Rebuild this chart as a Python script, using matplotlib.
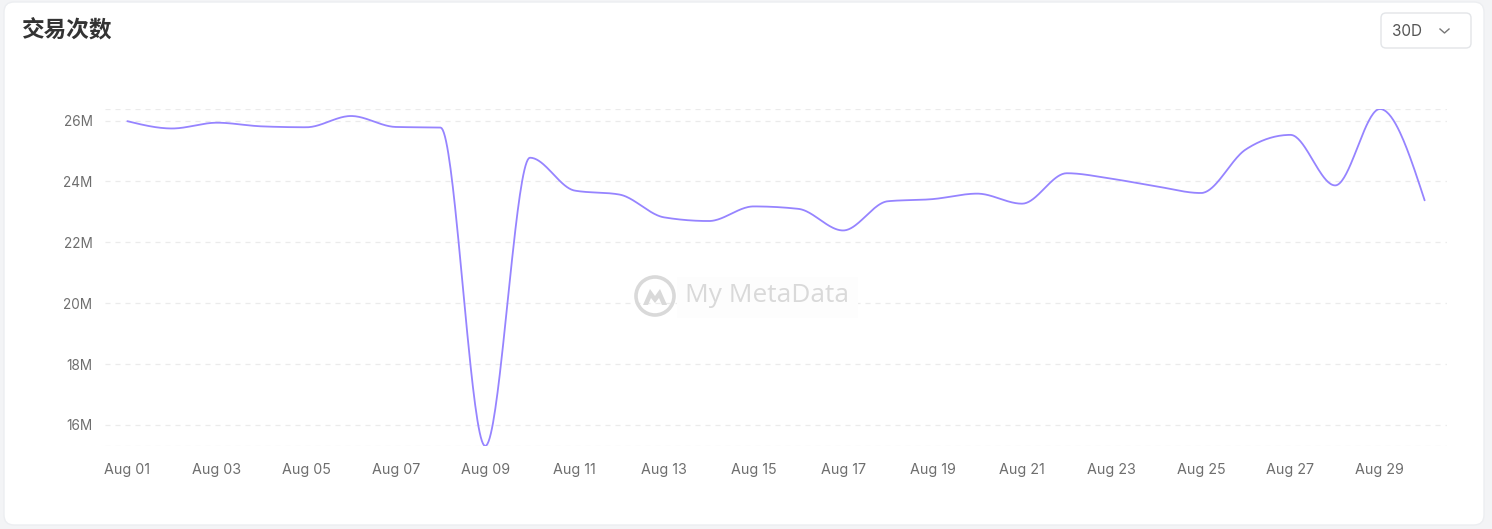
import numpy as np
import matplotlib
matplotlib.use("Agg")
import matplotlib.pyplot as plt
from matplotlib.patches import FancyBboxPatch, Circle, Polygon, Rectangle
from matplotlib.transforms import IdentityTransform

# ---------------- data ----------------
dates = ["Aug 01", "Aug 02", "Aug 03", "Aug 04", "Aug 05", "Aug 06", "Aug 07", "Aug 08",
         "Aug 09", "Aug 10", "Aug 11", "Aug 12", "Aug 13", "Aug 14", "Aug 15", "Aug 16",
         "Aug 17", "Aug 18", "Aug 19", "Aug 20", "Aug 21", "Aug 22", "Aug 23", "Aug 24",
         "Aug 25", "Aug 26", "Aug 27", "Aug 28", "Aug 29", "Aug 30"]
tx_millions = [25.98, 25.74, 25.93, 25.81, 25.78, 26.15, 25.79, 25.77,
               15.31, 24.78, 23.70, 23.57, 22.82, 22.70, 23.18, 23.10,
               22.39, 23.35, 23.42, 23.60, 23.27, 24.27, 24.09, 23.84,
               23.62, 25.05, 25.53, 23.87, 26.38, 23.38]
y_ticks = [16, 18, 20, 22, 24, 26]
y_tick_labels = ["16M", "18M", "20M", "22M", "24M", "26M"]
title = "交易次数"
range_label = "30D"
watermark = "My MetaData"

W, H = 1492, 529
fig = plt.figure(figsize=(W / 100, H / 100), dpi=100)
fig.patch.set_facecolor("#f3f4f6")

# card background (pixel coords, origin bottom-left)
card = FancyBboxPatch((4, 4), 1480, H - 6, boxstyle="round,pad=0,rounding_size=10",
                      transform=IdentityTransform(), facecolor="white",
                      edgecolor="#eceef1", linewidth=1, zorder=-10)
fig.patches.append(card)


def monotone_x(y, n_sub=40):
    """d3 curveMonotoneX-style interpolation for unit-spaced x."""
    y = np.asarray(y, dtype=float)
    n = len(y)
    s = np.diff(y)
    t = np.zeros(n)
    for i in range(1, n - 1):
        s0, s1 = s[i - 1], s[i]
        p = (s0 + s1) / 2.0
        t[i] = (np.sign(s0) + np.sign(s1)) * min(abs(s0), abs(s1), 0.5 * abs(p))
    t[0] = (3 * s[0] - t[1]) / 2.0
    t[-1] = (3 * s[-1] - t[-2]) / 2.0
    xs, ys = [], []
    u = np.linspace(0, 1, n_sub, endpoint=False)
    for i in range(n - 1):
        h00 = 2 * u**3 - 3 * u**2 + 1
        h10 = u**3 - 2 * u**2 + u
        h01 = -2 * u**3 + 3 * u**2
        h11 = u**3 - u**2
        ys.append(h00 * y[i] + h10 * t[i] + h01 * y[i + 1] + h11 * t[i + 1])
        xs.append(i + u)
    xs.append(np.array([n - 1.0]))
    ys.append(np.array([y[-1]]))
    return np.concatenate(xs), np.concatenate(ys)


# axes placement in pixels
left_px, right_px, top_px, bottom_px = 105, 1447, 109, 446
ax = fig.add_axes([left_px / W, 1 - bottom_px / H, (right_px - left_px) / W, (bottom_px - top_px) / H])
ax.set_facecolor("none")
ax.set_zorder(1)

x = np.arange(len(dates))
xs, ys = monotone_x(tx_millions)
ymin, ymax = min(tx_millions), max(tx_millions)
ax.set_xlim(-0.5, len(dates) - 0.5)
ax.set_ylim(ymin, ymax)

grid_kw = dict(color="#ebebeb", linewidth=0.9, linestyle=(0, (4, 4)), zorder=1)
for g in y_ticks + [ymin, ymax]:
    ax.axhline(g, **grid_kw)

ax.plot(xs, ys, color="#9684ff", linewidth=1.3, zorder=3, solid_capstyle="round")

tick_font = ["Inter", "DejaVu Sans"]
ax.set_yticks(y_ticks)
ax.set_yticklabels(y_tick_labels, fontsize=9.8, color="#6e6e6e", family=tick_font)
ax.set_xticks(x[::2])
ax.set_xticklabels(dates[::2], fontsize=10.3, color="#6e6e6e", family=tick_font)
ax.tick_params(axis="both", length=0)
ax.tick_params(axis="y", pad=9)
ax.tick_params(axis="x", pad=12)
for sp in ax.spines.values():
    sp.set_visible(False)

# title
fig.text(22 / W, 1 - 31 / H, title, fontsize=16.3, fontweight="bold", color="#333333",
         family=["Noto Sans CJK SC", "DejaVu Sans"], va="center", ha="left")

# range dropdown
box = FancyBboxPatch((1381, H - 48), 90, 35, boxstyle="round,pad=0,rounding_size=5",
                     transform=IdentityTransform(), facecolor="white",
                     edgecolor="#e3e5e8", linewidth=1, zorder=2)
fig.patches.append(box)
fig.text(1392 / W, 1 - 31 / H, range_label, fontsize=11, color="#555555",
         family=tick_font, va="center", ha="left", zorder=3)
chev = plt.Line2D([1440 / W, 1444.5 / W, 1449 / W], [1 - 29 / H, 1 - 33 / H, 1 - 29 / H],
                  transform=fig.transFigure, color="#777777", linewidth=1.0, zorder=4)
fig.lines.append(chev)

# watermark (above gridlines, image has an off-white backing)
wm_color = "#d9d9d9"
backing = Rectangle((677, H - 318), 181, 41, transform=IdentityTransform(),
                    facecolor="#fdfdfd", edgecolor="none", zorder=5)
fig.patches.append(backing)
circ = Circle((655, H - 296), 19, transform=IdentityTransform(), fill=False,
              edgecolor=wm_color, linewidth=2.6, zorder=6)
fig.patches.append(circ)
mtn = Polygon([(643, H - 305), (650, H - 289), (655, H - 296), (660, H - 289), (667, H - 305),
               (662, H - 305), (659, H - 298), (655, H - 303), (651, H - 298), (648, H - 305)],
              closed=True, transform=IdentityTransform(), facecolor=wm_color,
              edgecolor="none", zorder=6)
fig.patches.append(mtn)
fig.text(685 / W, 1 - 296 / H, watermark, fontsize=18.9, color=wm_color,
         family=["Open Sans", "DejaVu Sans"], va="center", ha="left", zorder=6)

fig.savefig("out.png", dpi=100, facecolor=fig.get_facecolor())
